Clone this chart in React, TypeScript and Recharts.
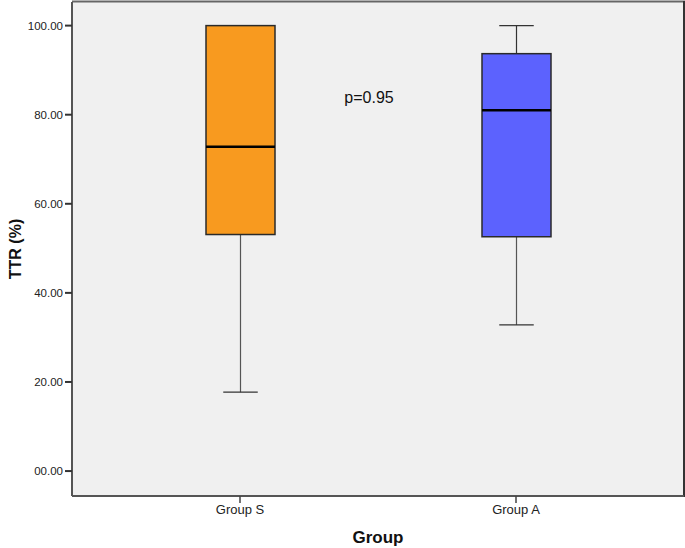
import React from 'react';
import { ComposedChart, Bar, XAxis, YAxis, CartesianGrid, Customized } from 'recharts';

const groups = ['Group S', 'Group A'];
const mins = [17.7, 32.8];
const q1s = [53.1, 52.6];
const medians = [72.8, 81.0];
const q3s = [100, 93.7];
const maxs = [100, 100];
const yTicks = [0, 20, 40, 60, 80, 100];

const boxColors: Record<string, string> = { 'Group S': '#F89A1F', 'Group A': '#5C62FE' };

const data = groups.map((g, i) => ({
  group: g,
  min: mins[i],
  q1: q1s[i],
  median: medians[i],
  q3: q3s[i],
  max: maxs[i],
  iqr: q3s[i] - q1s[i],
}));

const font = '"Liberation Sans", Arial, sans-serif';

const BoxShape = (props: any) => {
  const { x, y, width, height, payload } = props;
  const k = height / (payload.q3 - payload.q1);
  const yOf = (v: number) => y + (payload.q3 - v) * k;
  const cx = x + width / 2;
  const cap = width / 4;
  const yMed = yOf(payload.median);
  const yMax = yOf(payload.max);
  const yMin = yOf(payload.min);
  return (
    <g>
      <line x1={cx} x2={cx} y1={yMax} y2={y} stroke="#333" strokeWidth={1.2} />
      <line x1={cx - cap} x2={cx + cap} y1={yMax} y2={yMax} stroke="#333" strokeWidth={1.2} />
      <line x1={cx} x2={cx} y1={y + height} y2={yMin} stroke="#555" strokeWidth={1.2} />
      <line x1={cx - cap} x2={cx + cap} y1={yMin} y2={yMin} stroke="#333" strokeWidth={1.2} />
      <rect x={x} y={y} width={width} height={height} fill={boxColors[payload.group]} stroke="#2a2a2a" strokeWidth={1.5} />
      <line x1={x} x2={x + width} y1={yMed} y2={yMed} stroke="#000" strokeWidth={2.5} />
    </g>
  );
};

// frame around the plot area + the p-value note
const Extras = () => (
  <g>
    <line x1={72} x2={685} y1={1.5} y2={1.5} stroke="#666" strokeWidth={2} />
    <line x1={684} x2={684} y1={1} y2={497} stroke="#333" strokeWidth={2} />
    <text x={369} y={103} textAnchor="middle" fontSize={16} fontFamily={font} fill="#111">
      p=0.95
    </text>
  </g>
);

const fmt = (v: number) => (v === 0 ? '00.00' : v.toFixed(2));

export default function App() {
  return (
    <div style={{ position: 'absolute', left: 0, top: 0, width: 685, height: 548, background: '#fff' }}>
      <ComposedChart
        width={685}
        height={548}
        data={data}
        margin={{ top: 2, right: 1, bottom: 0, left: 0 }}
        barCategoryGap={0}
      >
        <CartesianGrid horizontal={false} vertical={false} fill="#f0f0f0" />
        <XAxis
          dataKey="group"
          padding={{ left: 30, right: 30 }}
          height={52}
          tickSize={7}
          tickLine={{ stroke: '#444', strokeWidth: 1.5 }}
          axisLine={{ stroke: '#555', strokeWidth: 2 }}
          tick={{ fontSize: 13, fill: '#222', fontFamily: font }}
          label={{ value: 'Group', position: 'insideBottom', offset: 5, fontSize: 17, fontWeight: 'bold', fill: '#111', fontFamily: font }}
        />
        <YAxis
          domain={[-5.6, 105.3]}
          ticks={yTicks}
          tickFormatter={fmt}
          width={72}
          tickSize={7}
          tickLine={{ stroke: '#333', strokeWidth: 2 }}
          axisLine={{ stroke: '#555', strokeWidth: 2 }}
          tick={{ fontSize: 11.5, fill: '#222', fontFamily: font }}
          allowDataOverflow
          label={{ value: 'TTR (%)', angle: -90, position: 'center', dx: -21, fontSize: 16, fontWeight: 'bold', fill: '#111', fontFamily: font }}
        />
        <Bar dataKey="q1" stackId="box" fill="none" barSize={69} isAnimationActive={false} />
        <Bar dataKey="iqr" stackId="box" barSize={69} shape={BoxShape} isAnimationActive={false} />
        <Customized component={Extras} />
      </ComposedChart>
    </div>
  );
}
